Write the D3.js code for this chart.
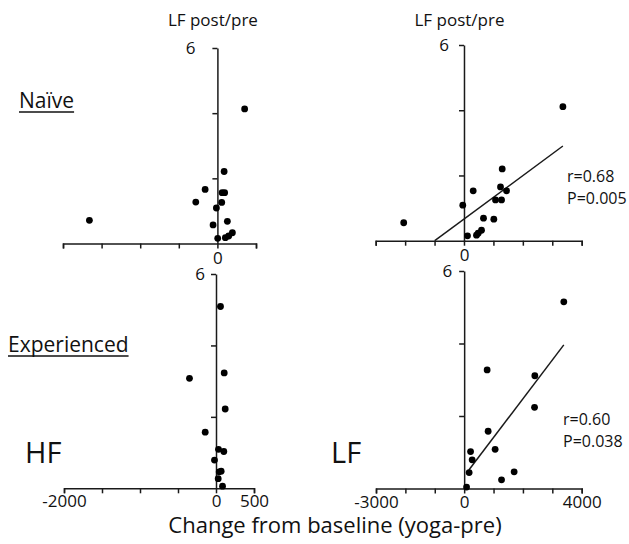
<!DOCTYPE html>
<html>
<head>
<meta charset="utf-8">
<script src="https://cdn.jsdelivr.net/npm/d3@7"></script>
<style>
  html, body { margin: 0; padding: 0; background: #fff; }
  svg { display: block; }
  text { font-family: 'Open Sans', sans-serif; fill: #111; }
</style>
</head>
<body>
<svg id="chart" width="629" height="544"></svg>
<script>
// ---------------- data ----------------
// Naïve group, HF change (x) vs LF post/pre (y)
const naiveHFx = [353, 87, -159, 61, 94, -280, 56, -13, -1658, 129, -56, 4, 103, 146, 194];
const naiveHFy = [4.13, 2.21, 1.66, 1.56, 1.56, 1.27, 1.26, 1.09, 0.71, 0.68, 0.57, 0.16, 0.18, 0.23, 0.33];
// Naïve group, LF change (x) vs LF post/pre (y)
const naiveLFx = [3361, 1299, 313, 1241, 1446, 1071, 1276, -41, 663, 1014, -2048, 595, 483, 425, 119];
const naiveLFy = [4.11, 2.20, 1.53, 1.65, 1.53, 1.25, 1.25, 1.09, 0.69, 0.66, 0.55, 0.32, 0.23, 0.17, 0.15];
// Experienced group, HF change (x) vs LF post/pre (y)
const expHFx = [59, 108, -349, 121, -142, 33, 103, -20, 42, 68, 29, 86];
const expHFy = [5.09, 3.23, 3.08, 2.22, 1.57, 1.09, 1.03, 0.79, 0.46, 0.48, 0.27, 0.06];
// Experienced group, LF change (x) vs LF post/pre (y)
const expLFx = [3391, 782, 2405, 2395, 816, 1054, 218, 272, 1701, 170, 1272, 82];
const expLFy = [5.15, 3.27, 3.11, 2.24, 1.58, 1.08, 1.02, 0.79, 0.46, 0.44, 0.24, 0.04];

// regression fits (slope, intercept, x-extent of drawn line)
const naiveLFfit = { slope: 0.000667, intercept: 0.662, from: -993, to: 3361 };
const expLFfit   = { slope: 0.001068, intercept: 0.34,  from: 160,  to: 3391 };

// statistics text
const naiveStats = ["r=0.68", "P=0.005"];
const expStats   = ["r=0.60", "P=0.038"];

// axis ticks and labels
const yTicks = [2, 4, 6];
const yLabels = [6];
const hfDomain = [-2000, 500];
const hfTicks = [-2000, -1500, -1000, -500, 0, 500];
const lfDomain = [-3000, 4000];
const lfTicks = [-3000, -2000, -1000, 0, 1000, 2000, 3000, 4000];
const topXLabels = [0];
const hfBottomLabels = [-2000, 0, 500];
const lfBottomLabels = [-3000, 0, 4000];

const yTitle = "LF post/pre";
const rowLabels = ["Naïve", "Experienced"];
const colLabels = ["HF", "LF"];
const xTitle = "Change from baseline (yoga-pre)";

// ---------------- layout ----------------
const svg = d3.select("#chart");
const ink = "#1a1a1a";

const panels = [
  { xs: naiveHFx, ys: naiveHFy, dom: hfDomain, ticks: hfTicks, labels: topXLabels,
    xr: [63, 256], yr: [243.5, 48], yPad: 17, xPad: 3, title: true, fit: null, stats: null },
  { xs: naiveLFx, ys: naiveLFy, dom: lfDomain, ticks: lfTicks, labels: topXLabels,
    xr: [375.7, 581.7], yr: [240.7, 45], yPad: 10, xPad: 3, title: true, fit: naiveLFfit,
    stats: naiveStats, statsPos: [567, 181.7, 22.3] },
  { xs: expHFx, ys: expHFy, dom: hfDomain, ticks: hfTicks, labels: hfBottomLabels,
    xr: [64, 254], yr: [488.3, 274], yPad: 6, xPad: 2, title: false, fit: null, stats: null },
  { xs: expLFx, ys: expLFy, dom: lfDomain, ticks: lfTicks, labels: lfBottomLabels,
    xr: [376, 581.7], yr: [488.5, 271], yPad: 7, xPad: 2, title: false, fit: expLFfit,
    stats: expStats, statsPos: [563, 425, 21.7] }
];

panels.forEach(p => {
  const x = d3.scaleLinear().domain(p.dom).range(p.xr);
  const y = d3.scaleLinear().domain([0, 6]).range(p.yr);
  const g = svg.append("g");

  // x axis
  const xAxis = d3.axisBottom(x)
    .tickValues(p.ticks)
    .tickSize(5)
    .tickSizeOuter(5)
    .tickPadding(p.xPad)
    .tickFormat(d => p.labels.includes(d) ? String(d) : "");
  const gx = g.append("g").attr("transform", `translate(0,${y(0)})`).call(xAxis);
  gx.selectAll("text").style("font-size", "17px").attr("fill", ink);

  // y axis at x = 0
  const yAxis = d3.axisLeft(y)
    .tickValues(yTicks)
    .tickSize(5)
    .tickSizeOuter(0)
    .tickPadding(p.yPad)
    .tickFormat(d => yLabels.includes(d) ? String(d) : "");
  const gy = g.append("g").attr("transform", `translate(${x(0)},0)`).call(yAxis);
  gy.selectAll("text").style("font-size", "17px").attr("fill", ink);

  g.selectAll(".domain, .tick line").attr("stroke", ink).attr("stroke-width", 1.5);

  if (p.title) {
    g.append("text")
      .attr("x", x(0) - 4.5)
      .attr("y", 26)
      .attr("text-anchor", "middle")
      .style("font-size", "17px")
      .text(yTitle);
  }

  if (p.fit) {
    const f = p.fit;
    g.append("line")
      .attr("x1", x(f.from)).attr("y1", y(f.intercept + f.slope * f.from))
      .attr("x2", x(f.to)).attr("y2", y(f.intercept + f.slope * f.to))
      .attr("stroke", ink).attr("stroke-width", 1.5);
  }

  const pts = p.xs.map((v, i) => [v, p.ys[i]]);
  g.selectAll("circle.pt").data(pts).enter().append("circle")
    .attr("class", "pt")
    .attr("cx", d => x(d[0]))
    .attr("cy", d => y(d[1]))
    .attr("r", 3.4)
    .attr("fill", "#000");

  if (p.stats) {
    p.stats.forEach((s, i) => {
      g.append("text")
        .attr("x", p.statsPos[0])
        .attr("y", p.statsPos[1] + i * p.statsPos[2])
        .style("font-size", "16px")
        .text(s);
    });
  }
});

// row labels (underlined)
const rowPos = [[19, 108, 21], [8, 352, 21]];
rowLabels.forEach((t, i) => {
  const txt = svg.append("text")
    .attr("x", rowPos[i][0]).attr("y", rowPos[i][1])
    .style("font-size", rowPos[i][2] + "px")
    .text(t);
  const w = txt.node().getComputedTextLength();
  svg.append("line")
    .attr("x1", rowPos[i][0]).attr("x2", rowPos[i][0] + w)
    .attr("y1", rowPos[i][1] + 4).attr("y2", rowPos[i][1] + 4)
    .attr("stroke", "#111").attr("stroke-width", 1.5);
});

// column labels
const colPos = [[25, 463], [331, 463]];
colLabels.forEach((t, i) => {
  svg.append("text")
    .attr("x", colPos[i][0]).attr("y", colPos[i][1])
    .style("font-size", "29px")
    .text(t);
});

// x-axis title
svg.append("text")
  .attr("x", 335).attr("y", 533)
  .attr("text-anchor", "middle")
  .style("font-size", "22px")
  .text(xTitle);
</script>
</body>
</html>
